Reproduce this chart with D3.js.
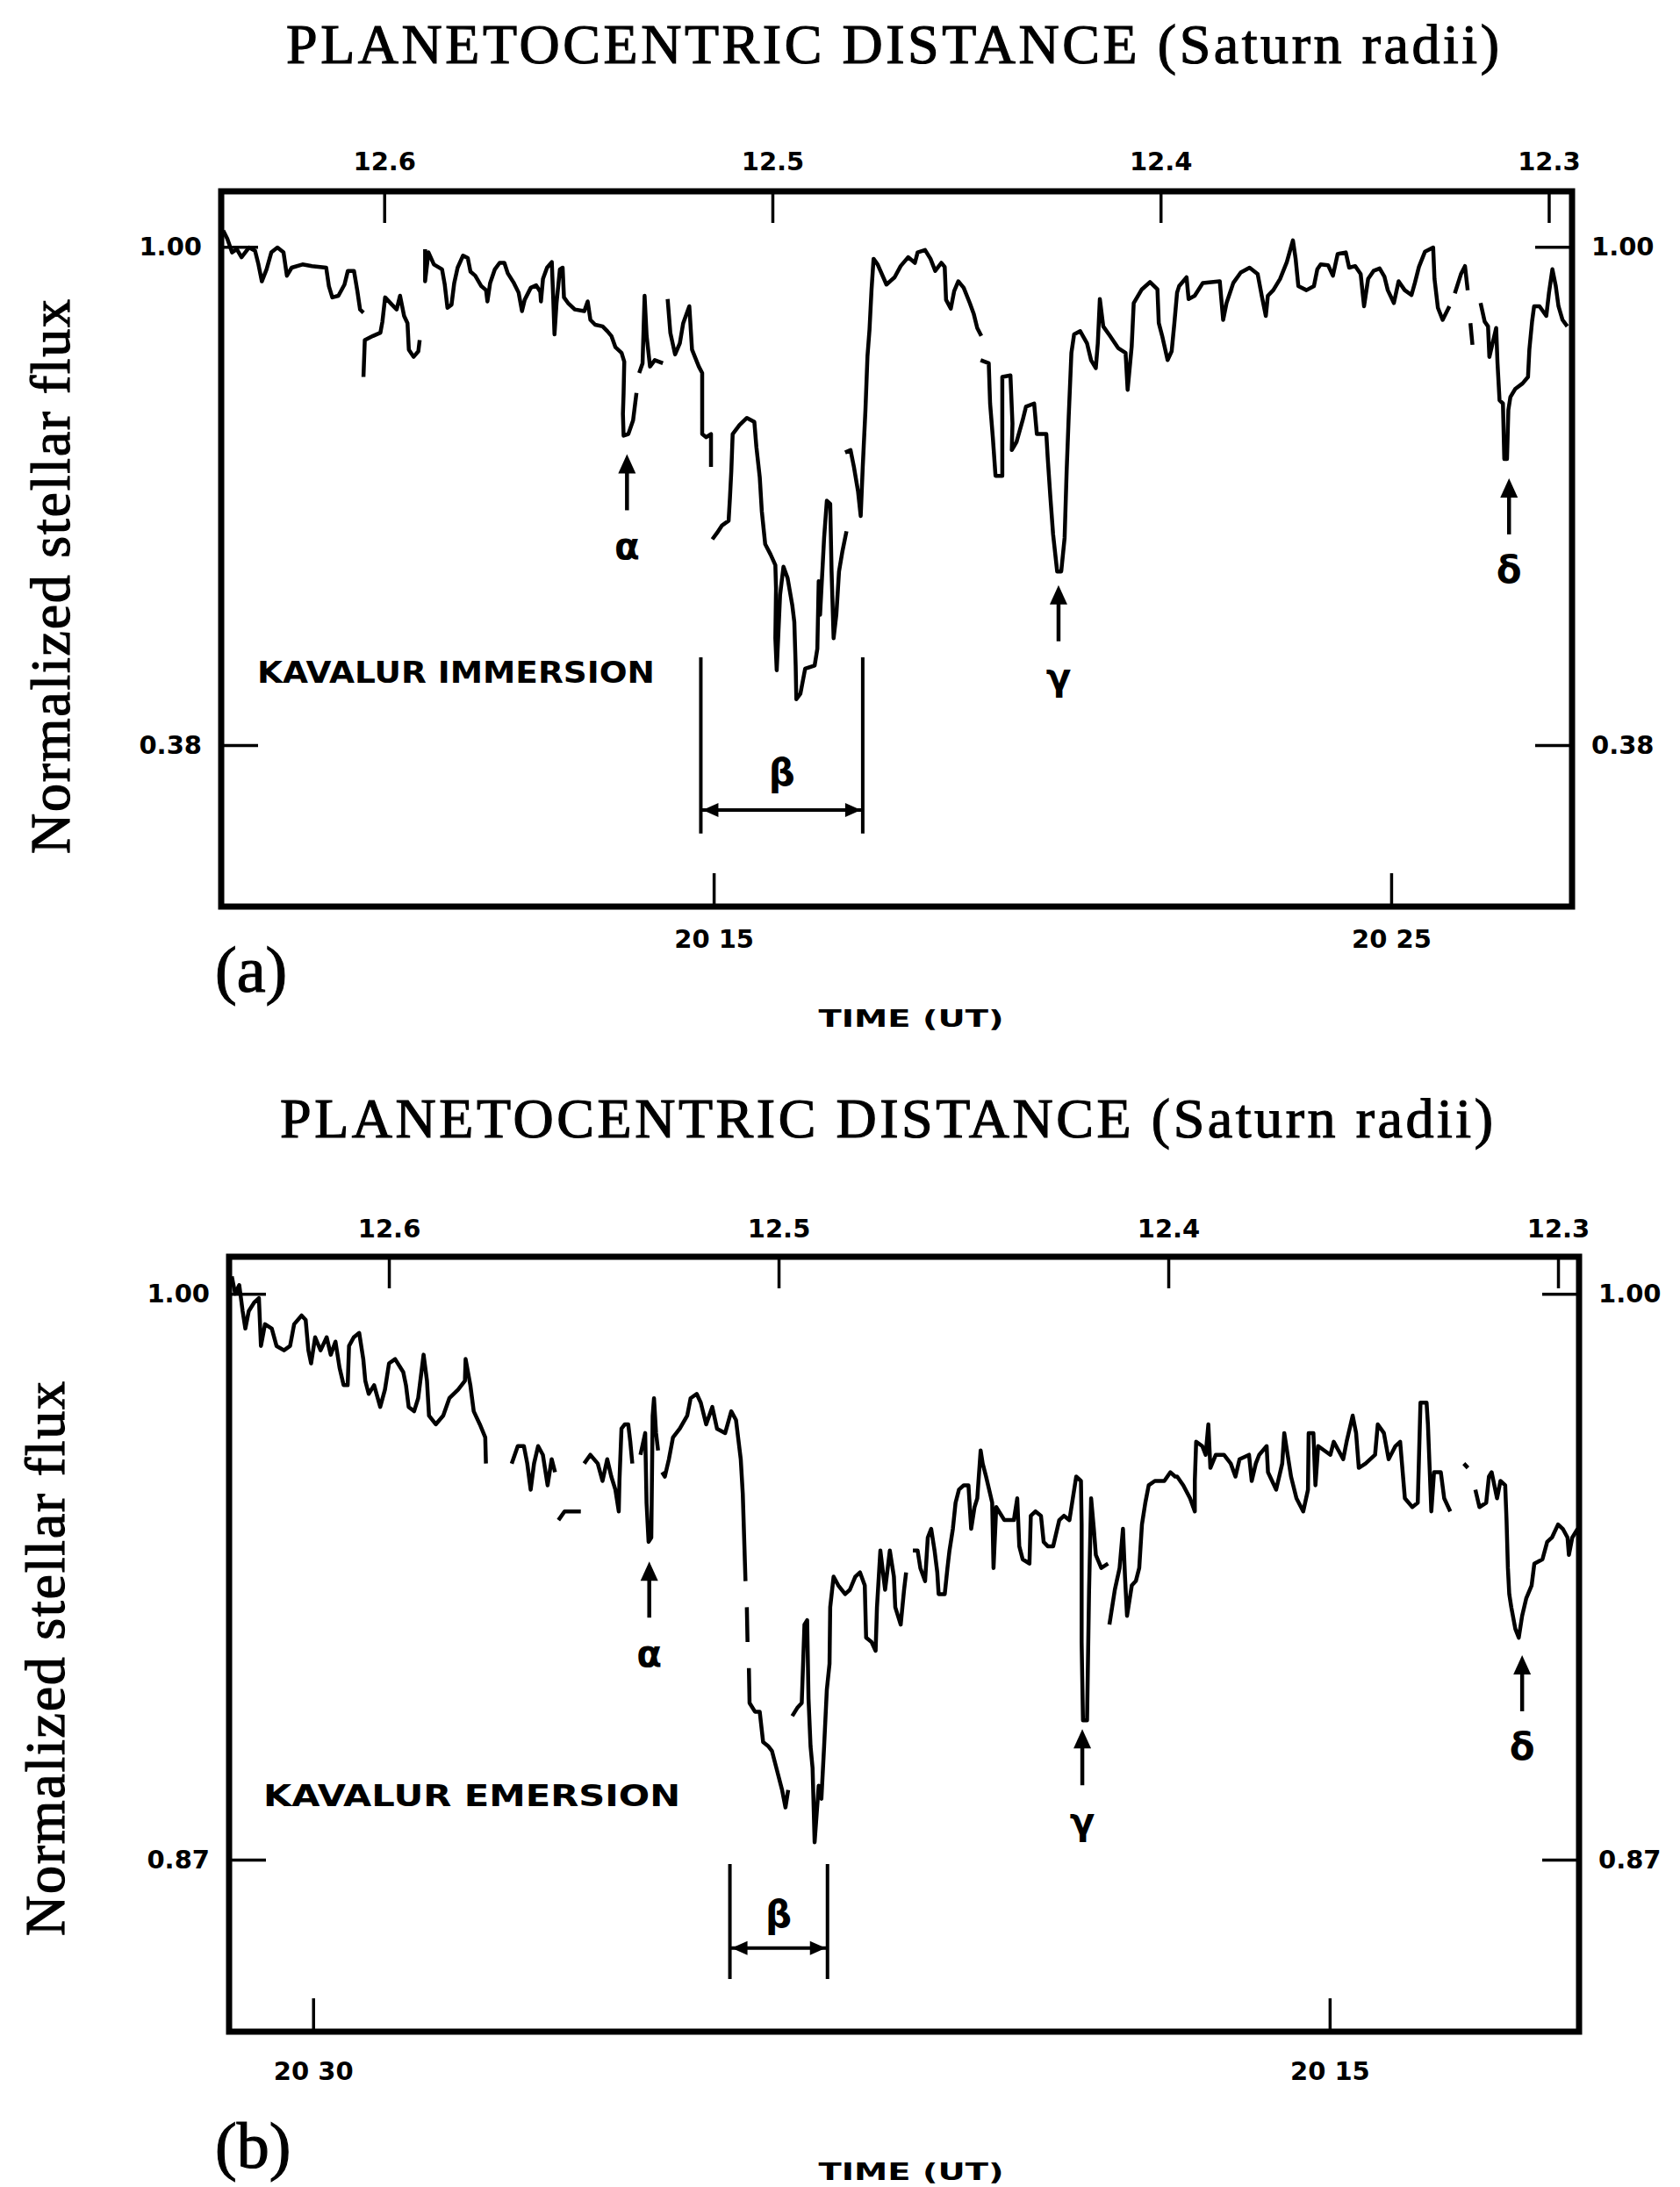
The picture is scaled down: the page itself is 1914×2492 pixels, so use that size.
<!DOCTYPE html>
<html>
  <head>
    <meta charset="utf-8">
    <style>
      body { margin: 0; background: #fff; }
      .serif { font-family: 'Liberation Serif', 'DejaVu Serif', serif; stroke: #000; stroke-width: 1.2px; }
      .sans { font-family: 'DejaVu Sans', sans-serif; font-weight: bold; }
    </style>
  </head>

  <body>

    <svg class="surface" width="1914" height="2492"></svg>

    <script src="https://cdn.jsdelivr.net/npm/d3@7/dist/d3.min.js" charset="utf-8"></script>
    <script>

      // planetocentric distance ticks (Saturn radii), top edge of both panels
      const distTicks = [12.6, 12.5, 12.4, 12.3]

      // (a) Kavalur immersion -- time in minutes after 20h UT, normalized flux
      const timeTicksA = [15, 25]
      const fluxTicksA = [1.00, 0.38]
      const immersion = [
        [7.76,1.020],[7.82,1.010],[7.89,0.993],[7.96,0.997],[8.03,0.987],[8.14,0.999],[8.23,0.995],[8.28,0.978],
        [8.33,0.957],[8.40,0.972],[8.47,0.993],[8.56,0.999],[8.65,0.993],[8.70,0.964],[8.77,0.974],[8.93,0.978],
        [9.07,0.976],[9.28,0.974],[9.32,0.951],[9.37,0.937],[9.46,0.939],[9.55,0.953],[9.60,0.970],[9.69,0.970],
        [9.74,0.945],[9.78,0.922],[9.83,0.918],null,
        [9.83,0.838],[9.85,0.884],[9.97,0.889],[10.08,0.893],[10.11,0.907],[10.15,0.937],[10.25,0.928],[10.32,0.922],
        [10.37,0.939],[10.43,0.914],[10.48,0.905],[10.50,0.872],[10.57,0.863],[10.64,0.870],[10.66,0.884],null,
        [10.74,0.997],[10.74,0.957],[10.79,0.993],[10.87,0.978],[10.99,0.972],[11.03,0.953],[11.07,0.924],[11.13,0.928],
        [11.17,0.955],[11.22,0.974],[11.30,0.989],[11.37,0.986],[11.41,0.969],[11.48,0.964],[11.57,0.951],[11.64,0.946],
        [11.66,0.932],[11.70,0.955],[11.77,0.972],[11.84,0.980],[11.91,0.980],[11.96,0.967],[12.05,0.955],[12.12,0.943],
        [12.17,0.920],[12.21,0.934],[12.30,0.949],[12.38,0.952],[12.44,0.944],[12.45,0.932],[12.48,0.960],[12.54,0.974],
        [12.61,0.981],[12.63,0.939],[12.65,0.891],[12.68,0.930],[12.73,0.972],[12.77,0.974],[12.79,0.937],[12.85,0.930],
        [12.95,0.922],[13.09,0.920],[13.14,0.932],[13.18,0.909],[13.25,0.903],[13.36,0.901],[13.43,0.895],[13.49,0.889],
        [13.55,0.875],[13.64,0.868],[13.68,0.857],[13.67,0.818],[13.66,0.792],[13.67,0.765],[13.74,0.767],[13.81,0.784],
        [13.86,0.818],null,
        [13.90,0.843],[13.95,0.855],[13.98,0.939],[14.01,0.889],[14.06,0.851],[14.13,0.859],[14.25,0.855],null,
        [14.32,0.935],[14.36,0.893],[14.43,0.866],[14.50,0.880],[14.55,0.905],[14.64,0.926],[14.68,0.872],[14.78,0.851],
        [14.83,0.843],[14.83,0.767],[14.89,0.763],[14.96,0.767],[14.96,0.726],null,
        [14.98,0.636],[15.05,0.644],[15.12,0.653],[15.22,0.659],[15.24,0.688],[15.26,0.721],[15.28,0.767],[15.38,0.778],
        [15.49,0.787],[15.60,0.782],[15.63,0.751],[15.68,0.713],[15.71,0.671],[15.76,0.630],[15.84,0.617],[15.91,0.604],
        [15.92,0.575],[15.91,0.513],[15.93,0.473],[15.98,0.567],[16.03,0.602],[16.09,0.588],[16.16,0.554],[16.19,0.533],
        [16.21,0.479],[16.22,0.437],[16.28,0.444],[16.35,0.475],[16.49,0.479],[16.53,0.500],[16.55,0.584],[16.57,0.542],
        [16.63,0.638],[16.67,0.684],[16.72,0.680],[16.74,0.596],[16.77,0.513],[16.81,0.542],[16.85,0.596],[16.90,0.621],
        [16.96,0.646],null,
        [16.94,0.744],[17.02,0.747],[17.07,0.726],[17.13,0.696],[17.17,0.665],[17.20,0.726],[17.24,0.797],[17.27,0.864],
        [17.30,0.897],[17.33,0.947],[17.36,0.985],[17.42,0.978],[17.55,0.953],[17.67,0.962],[17.76,0.976],[17.87,0.987],
        [17.97,0.980],[18.01,0.993],[18.12,0.996],[18.20,0.985],[18.27,0.970],[18.36,0.980],[18.41,0.975],[18.43,0.934],
        [18.50,0.923],[18.55,0.945],[18.61,0.957],[18.69,0.949],[18.78,0.930],[18.84,0.916],[18.89,0.899],[18.95,0.889],null,
        [18.94,0.859],[19.06,0.855],[19.08,0.805],[19.12,0.763],[19.16,0.715],[19.26,0.715],[19.26,0.838],[19.38,0.840],
        [19.41,0.780],[19.40,0.747],[19.47,0.757],[19.56,0.784],[19.61,0.801],[19.73,0.805],[19.77,0.767],[19.91,0.767],
        [19.93,0.738],[19.97,0.688],[20.01,0.642],[20.07,0.596],[20.13,0.596],[20.18,0.638],[20.21,0.721],[20.24,0.788],
        [20.28,0.868],[20.32,0.891],[20.41,0.895],[20.51,0.880],[20.57,0.859],[20.64,0.849],[20.67,0.880],[20.70,0.935],
        [20.75,0.901],[20.85,0.889],[20.97,0.874],[21.08,0.868],[21.11,0.822],[21.17,0.876],[21.20,0.930],[21.32,0.947],
        [21.44,0.956],[21.55,0.947],[21.57,0.905],[21.62,0.889],[21.70,0.859],[21.76,0.870],[21.80,0.905],[21.84,0.943],
        [21.87,0.951],[21.98,0.962],[22.01,0.935],[22.10,0.939],[22.22,0.955],[22.47,0.957],[22.52,0.909],[22.57,0.930],
        [22.67,0.955],[22.78,0.968],[22.91,0.974],[23.03,0.966],[23.09,0.939],[23.15,0.914],[23.18,0.939],[23.26,0.946],
        [23.36,0.960],[23.46,0.981],[23.55,1.008],[23.59,0.985],[23.63,0.951],[23.75,0.946],[23.86,0.951],[23.91,0.972],
        [23.96,0.978],[24.07,0.977],[24.14,0.964],[24.21,0.991],[24.33,0.993],[24.38,0.974],[24.47,0.976],[24.55,0.966],
        [24.60,0.926],[24.66,0.960],[24.74,0.970],[24.83,0.973],[24.90,0.963],[24.95,0.946],[25.04,0.930],[25.11,0.957],
        [25.20,0.946],[25.30,0.940],[25.35,0.955],[25.41,0.975],[25.50,0.994],[25.62,0.999],[25.64,0.960],[25.69,0.924],
        [25.76,0.909],[25.86,0.926],null,
        [25.94,0.942],[26.03,0.966],[26.09,0.976],[26.13,0.946],null,[26.17,0.905],[26.20,0.878],null,
        [26.32,0.930],[26.38,0.907],[26.43,0.901],[26.45,0.863],[26.55,0.899],[26.57,0.855],[26.60,0.809],[26.65,0.805],
        [26.67,0.736],[26.71,0.736],[26.73,0.797],[26.76,0.813],[26.83,0.823],[26.94,0.830],[27.02,0.838],[27.04,0.872],
        [27.08,0.907],[27.11,0.926],[27.19,0.926],[27.29,0.914],[27.33,0.943],[27.38,0.972],[27.43,0.951],[27.47,0.926],
        [27.53,0.909],[27.60,0.901]
      ]
      const marksA = [
        { label: 'α', t: 13.72, f: 0.742 },
        { label: 'γ', t: 20.09, f: 0.579 },
        { label: 'δ', t: 26.74, f: 0.712 }
      ]
      const betaA = { t0: 14.81, t1: 17.20, top: 0.489, bottom: 0.270, arrow: 0.299, text: 0.346 }

      // (b) Kavalur emersion -- time runs backwards left to right
      const timeTicksB = [30, 15]
      const fluxTicksB = [1.00, 0.87]
      const emersion = [
        [31.20,1.004],[31.15,1.000],[31.09,1.002],[31.04,0.996],[31.00,0.992],[30.95,0.996],[30.87,0.998],[30.80,0.999],
        [30.77,0.988],[30.71,0.993],[30.61,0.992],[30.54,0.988],[30.43,0.987],[30.34,0.988],[30.28,0.993],[30.17,0.995],
        [30.11,0.994],[30.07,0.987],[30.03,0.984],[29.97,0.990],[29.89,0.987],[29.80,0.990],[29.74,0.986],[29.67,0.989],
        [29.61,0.983],[29.55,0.979],[29.49,0.979],[29.47,0.988],[29.40,0.990],[29.32,0.991],[29.26,0.985],[29.23,0.980],
        [29.18,0.977],[29.10,0.979],[29.01,0.974],[28.94,0.978],[28.88,0.984],[28.79,0.985],[28.67,0.982],[28.63,0.979],
        [28.59,0.974],[28.51,0.973],[28.45,0.976],[28.37,0.986],[28.32,0.980],[28.29,0.972],[28.19,0.970],[28.08,0.972],
        [27.99,0.976],[27.86,0.978],[27.76,0.980],[27.75,0.985],[27.68,0.979],[27.63,0.973],[27.54,0.970],[27.46,0.967],
        [27.45,0.961],null,
        [27.07,0.961],[26.98,0.965],[26.89,0.965],[26.84,0.961],[26.79,0.955],[26.74,0.961],[26.68,0.965],[26.61,0.963],
        [26.54,0.956],[26.48,0.962],[26.43,0.959],null,
        [26.38,0.948],[26.29,0.950],[26.05,0.950],null,
        [26.00,0.961],[25.91,0.963],[25.80,0.961],[25.73,0.957],[25.66,0.962],[25.60,0.958],[25.54,0.955],[25.49,0.950],
        [25.48,0.957],[25.45,0.969],[25.40,0.970],[25.35,0.970],[25.32,0.966],[25.29,0.961],null,
        [25.17,0.963],[25.10,0.968],[25.08,0.952],[25.05,0.943],[25.01,0.944],[24.99,0.972],[24.97,0.976],[24.94,0.968],
        [24.91,0.964],null,
        [24.85,0.959],[24.81,0.958],[24.75,0.962],[24.69,0.967],[24.59,0.969],[24.48,0.972],[24.43,0.976],[24.34,0.977],
        [24.28,0.975],[24.20,0.970],[24.11,0.974],[24.04,0.969],[23.92,0.968],[23.83,0.973],[23.76,0.971],[23.69,0.962],
        [23.66,0.954],[23.62,0.934],null,[23.60,0.928],[23.59,0.920],null,
        [23.57,0.914],[23.56,0.906],[23.48,0.904],[23.41,0.904],[23.36,0.897],[23.28,0.896],[23.23,0.895],[23.13,0.889],
        [23.08,0.886],[23.03,0.882],[22.99,0.886],null,
        [22.93,0.903],[22.85,0.905],[22.79,0.906],[22.75,0.924],[22.71,0.925],[22.69,0.907],[22.66,0.896],[22.63,0.891],
        [22.60,0.874],[22.54,0.887],[22.50,0.884],[22.46,0.896],[22.42,0.909],[22.38,0.915],[22.37,0.928],[22.32,0.935],
        [22.25,0.933],[22.15,0.931],[22.08,0.932],[22.00,0.935],[21.93,0.936],[21.86,0.933],[21.84,0.921],[21.76,0.920],
        [21.70,0.918],[21.68,0.928],[21.63,0.941],[21.56,0.932],[21.49,0.941],[21.43,0.935],[21.41,0.928],[21.33,0.924],
        [21.28,0.932],[21.25,0.936],null,
        [21.15,0.941],[21.08,0.941],[21.04,0.937],[20.97,0.934],[20.93,0.944],[20.88,0.946],[20.83,0.941],[20.79,0.936],
        [20.77,0.931],[20.68,0.931],[20.64,0.937],[20.61,0.941],[20.56,0.946],[20.52,0.952],[20.47,0.955],[20.40,0.956],
        [20.33,0.956],[20.29,0.946],[20.24,0.951],[20.20,0.953],[20.15,0.964],[20.12,0.961],[20.07,0.958],[20.01,0.954],
        [19.98,0.952],[19.96,0.937],[19.92,0.951],[19.80,0.948],[19.66,0.948],[19.61,0.953],[19.58,0.942],[19.53,0.939],
        [19.43,0.938],[19.41,0.949],[19.34,0.950],[19.26,0.949],[19.22,0.943],[19.16,0.942],[19.08,0.942],[18.99,0.948],
        [18.92,0.949],[18.84,0.948],[18.80,0.952],[18.74,0.958],[18.67,0.957],[18.66,0.947],[18.66,0.920],[18.64,0.902],
        [18.58,0.902],[18.55,0.932],[18.52,0.953],[18.48,0.946],[18.45,0.940],[18.37,0.937],[18.27,0.938],null,
        [18.25,0.924],[18.17,0.932],[18.10,0.937],[18.05,0.946],[18.02,0.935],[17.99,0.926],[17.92,0.933],[17.86,0.934],
        [17.81,0.937],[17.77,0.947],[17.72,0.952],[17.67,0.956],[17.58,0.957],[17.44,0.957],[17.35,0.959],[17.28,0.958],
        [17.25,0.958],[17.16,0.956],[17.06,0.953],[16.99,0.950],[16.99,0.957],[16.97,0.966],[16.88,0.965],[16.83,0.963],
        [16.79,0.970],[16.76,0.960],[16.68,0.963],[16.56,0.963],[16.46,0.961],[16.39,0.958],[16.33,0.962],[16.19,0.963],
        [16.15,0.957],[16.09,0.961],[16.04,0.963],[15.93,0.965],[15.91,0.959],[15.79,0.955],[15.70,0.961],[15.67,0.968],
        [15.63,0.964],[15.57,0.958],[15.49,0.953],[15.39,0.950],[15.32,0.955],[15.31,0.968],[15.24,0.968],[15.21,0.956],
        [15.17,0.965],[14.99,0.963],[14.94,0.966],[14.87,0.964],[14.80,0.962],[14.75,0.966],[14.66,0.972],[14.61,0.968],
        [14.57,0.960],[14.47,0.961],[14.33,0.963],[14.29,0.970],[14.20,0.968],[14.13,0.962],[14.03,0.965],[13.96,0.966],
        [13.89,0.953],[13.78,0.951],[13.70,0.952],[13.66,0.975],[13.57,0.975],[13.55,0.970],[13.50,0.950],[13.46,0.959],
        [13.36,0.959],[13.31,0.953],[13.22,0.950],null,
        [13.02,0.961],[12.96,0.960],null,
        [12.85,0.955],[12.79,0.951],[12.69,0.952],[12.65,0.958],[12.61,0.959],[12.53,0.953],[12.48,0.957],[12.41,0.956],
        [12.39,0.948],[12.37,0.937],[12.35,0.931],[12.32,0.928],[12.26,0.923],[12.21,0.921],[12.16,0.926],[12.10,0.930],
        [12.02,0.933],[11.98,0.938],[11.86,0.939],[11.79,0.943],[11.72,0.944],[11.63,0.947],[11.56,0.946],[11.49,0.944],
        [11.47,0.940],[11.42,0.944],[11.34,0.946]
      ]
      const marksB = [
        { label: 'α', t: 25.04, f: 0.9385 },
        { label: 'γ', t: 18.65, f: 0.900 },
        { label: 'δ', t: 12.16, f: 0.917 }
      ]
      const betaB = { t0: 23.85, t1: 22.41, top: 0.869, bottom: 0.8426, arrow: 0.8497, text: 0.8575 }

      const svg = d3.select('.surface')

      function drawPanel(p) {
        const x = d3.scaleLinear().domain(p.timeDomain).range([p.left, p.right])
        const y = d3.scaleLinear().domain(p.fluxDomain).range([p.bottom, p.top])
        const dist = d3.scaleLinear().domain(p.distDomain).range([p.left, p.right])
        const g = svg.append('g')

        g.append('text').attr('class', 'serif')
          .attr('x', p.titleX).attr('y', p.titleY)
          .attr('text-anchor', 'middle').attr('font-size', 64)
          .attr('textLength', 1382).attr('lengthAdjust', 'spacing')
          .text('PLANETOCENTRIC DISTANCE (Saturn radii)')

        const axes = [
          g.append('g').attr('transform', `translate(0,${p.top})`)
            .call(d3.axisTop(dist).tickValues(distTicks).tickSize(-36).tickPadding(p.topPad).tickFormat(d3.format('.1f'))),
          g.append('g').attr('transform', `translate(0,${p.bottom})`)
            .call(d3.axisBottom(x).tickValues(p.timeTicks).tickSize(-38).tickPadding(p.bottomPad).tickFormat(t => '20 ' + t)),
          g.append('g').attr('transform', `translate(${p.left},0)`)
            .call(d3.axisLeft(y).tickValues(p.fluxTicks).tickSize(-42).tickPadding(22).tickFormat(d3.format('.2f'))),
          g.append('g').attr('transform', `translate(${p.right},0)`)
            .call(d3.axisRight(y).tickValues(p.fluxTicks).tickSize(-42).tickPadding(22).tickFormat(d3.format('.2f')))
        ]
        axes.forEach(a => {
          a.select('.domain').remove()
          a.attr('font-family', null).attr('font-size', null)
          a.selectAll('line').attr('stroke-width', 3.5)
          a.selectAll('text').attr('class', 'sans').attr('font-size', 29)
        })

        const line = d3.line()
          .defined(v => v !== null)
          .x(v => x(v[0]))
          .y(v => y(v[1]))

        g.append('path').datum(p.trace)
          .attr('d', line)
          .attr('fill', 'none')
          .attr('stroke', '#000')
          .attr('stroke-width', 4.5)
          .attr('stroke-linejoin', 'round')

        g.append('rect')
          .attr('x', p.left).attr('y', p.top)
          .attr('width', p.right - p.left).attr('height', p.bottom - p.top)
          .attr('fill', 'none').attr('stroke', '#000').attr('stroke-width', 7)

        // arrows under the dips
        const marks = g.selectAll('.mark').data(p.marks).join('g')
          .attr('class', 'mark')
          .attr('transform', m => `translate(${x(m.t)},${y(m.f)})`)
        marks.append('path').attr('d', 'M0,0 L10,22 L-10,22 Z').attr('fill', '#000')
        marks.append('line').attr('y1', 18).attr('y2', 64).attr('stroke', '#000').attr('stroke-width', 4.5)
        marks.append('text').attr('class', 'sans')
          .attr('y', 105).attr('text-anchor', 'middle').attr('dominant-baseline', 'central')
          .attr('font-size', 42).text(m => m.label)

        // beta bracket
        const b = p.beta
        const bx0 = x(b.t0), bx1 = x(b.t1), ya = y(b.arrow)
        ;[bx0, bx1].forEach(bx => {
          g.append('line').attr('x1', bx).attr('x2', bx).attr('y1', y(b.top)).attr('y2', y(b.bottom))
            .attr('stroke', '#000').attr('stroke-width', 4)
        })
        g.append('line').attr('x1', bx0).attr('x2', bx1).attr('y1', ya).attr('y2', ya)
          .attr('stroke', '#000').attr('stroke-width', 4)
        g.append('path').attr('d', `M${bx0 + 2},${ya} l18,-8 l0,16 Z M${bx1 - 2},${ya} l-18,-8 l0,16 Z`).attr('fill', '#000')
        g.append('text').attr('class', 'sans')
          .attr('x', (bx0 + bx1) / 2).attr('y', y(b.text))
          .attr('text-anchor', 'middle').attr('dominant-baseline', 'central')
          .attr('font-size', 42).text('β')

        g.append('text').attr('class', 'sans')
          .attr('x', p.stationX).attr('y', p.stationY)
          .attr('font-size', 34)
          .attr('textLength', p.stationW).attr('lengthAdjust', 'spacingAndGlyphs')
          .text(p.station)

        g.append('text').attr('class', 'serif')
          .attr('x', p.tagX).attr('y', p.tagY)
          .attr('font-size', 74).text(p.tag)

        g.append('text').attr('class', 'sans')
          .attr('x', 1038).attr('y', p.timeY)
          .attr('text-anchor', 'middle').attr('font-size', 26)
          .attr('textLength', 211).attr('lengthAdjust', 'spacingAndGlyphs')
          .text('TIME (UT)')

        g.append('text').attr('class', 'serif')
          .attr('transform', `translate(${p.yTitleX},${p.yTitleY}) rotate(-90)`)
          .attr('text-anchor', 'middle').attr('dominant-baseline', 'central')
          .attr('font-size', 64)
          .attr('textLength', 632).attr('lengthAdjust', 'spacing')
          .text('Normalized stellar flux')
      }

      drawPanel({
        trace: immersion, marks: marksA, beta: betaA,
        timeTicks: timeTicksA, fluxTicks: fluxTicksA,
        timeDomain: [7.73, 27.67], fluxDomain: [0.179, 1.069], distDomain: [12.642, 12.294],
        left: 252, right: 1791, top: 218, bottom: 1033,
        titleX: 1017, titleY: 72, topPad: 24, bottomPad: 26,
        station: 'KAVALUR IMMERSION', stationX: 293, stationY: 778, stationW: 453,
        tag: '(a)', tagX: 245, tagY: 1130, timeY: 1170, yTitleX: 57, yTitleY: 657
      })

      drawPanel({
        trace: emersion, marks: marksB, beta: betaB,
        timeTicks: timeTicksB, fluxTicks: fluxTicksB,
        timeDomain: [31.24, 11.32], fluxDomain: [0.8305, 1.0085], distDomain: [12.641, 12.2946],
        left: 261, right: 1799, top: 1432, bottom: 2315,
        titleX: 1010, titleY: 1296, topPad: 22, bottomPad: 34,
        station: 'KAVALUR EMERSION', stationX: 300, stationY: 2058, stationW: 475,
        tag: '(b)', tagX: 245, tagY: 2470, timeY: 2484, yTitleX: 51, yTitleY: 1890
      })

    </script>
  </body>

</html>
